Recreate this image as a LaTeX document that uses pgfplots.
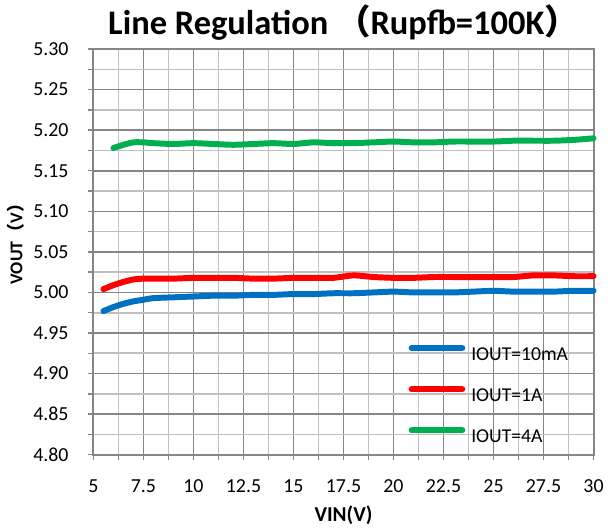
\documentclass[border=0pt]{standalone}
\usepackage{pgfplots}
\pgfplotsset{compat=1.18}
\usepackage{fontspec}
\setmainfont{Carlito}
\newfontfamily\cjk{Noto Sans CJK SC}
\definecolor{cblue}{RGB}{0,112,192}
\definecolor{cred}{RGB}{255,0,0}
\definecolor{cgreen}{RGB}{0,176,80}
\definecolor{gmaj}{RGB}{134,134,134}
\definecolor{gmin}{RGB}{192,192,192}
\begin{document}
\begin{tikzpicture}
\path (-70.5pt,-54pt) rectangle (385.5pt,342pt);
\begin{axis}[
  name=ax,
  at={(0pt,0pt)}, anchor=south west,
  scale only axis,
  width=377.25pt, height=306pt,
  xmin=5, xmax=30, ymin=4.80, ymax=5.30,
  xtick={5,7.5,10,12.5,15,17.5,20,22.5,25,27.5,30},
  ytick={4.80,4.85,4.90,4.95,5.00,5.05,5.10,5.15,5.20,5.25,5.30},
  minor x tick num=1, minor y tick num=1,
  xmajorgrids=true, ymajorgrids=true, xminorgrids=true, yminorgrids=true,
  major grid style={draw=gmaj, line width=1.2pt},
  minor grid style={draw=gmin, line width=1.2pt},
  axis line style={draw=gmaj, line width=1.5pt},
  tick style={draw=gmaj, line width=1.1pt},
  tick pos=left,
  tick align=outside,
  major tick length=4pt, minor tick length=4pt,
  /pgf/number format/assume math mode=true,
  ticklabel style={font=\fontsize{15}{18}\selectfont, text=black},
  xticklabel style={yshift=-11.25pt},
  yticklabel style={xshift=-11.25pt, /pgf/number format/.cd, fixed, fixed zerofill, precision=2},
  scaled y ticks=false,
  clip=false,
  title={Line Regulation {\cjk\bfseries （}Rupfb=100K{\cjk\bfseries ）}},
  title style={at={(axis description cs:0.5,1)}, anchor=base, yshift=5.25pt, font=\fontsize{26}{31}\selectfont\bfseries},
  every axis x label/.style={at={(axis description cs:0.5,0)}, anchor=base, yshift=-50.5pt},
  every axis y label/.style={at={(axis description cs:-0.1555,0.53)}, anchor=center, rotate=90},
  xlabel={\bfseries VIN(V)},
  ylabel={\bfseries VOUT{\cjk\bfseries （}V{\cjk\bfseries ）}},
  xlabel style={font=\fontsize{16}{19}\selectfont},
  ylabel style={font=\fontsize{13.5}{16}\selectfont},
  legend cell align=left,
  legend image code/.code={\draw[#1] (0pt,4.75pt) -- (38.25pt,4.75pt);},
  legend style={at={(0.594,0.3235)}, anchor=north west, draw=none, fill=none,
    inner xsep=13.5pt, inner ysep=16.3pt, row sep=19.2pt,
    font=\fontsize{14.8}{17}\selectfont,
    nodes={inner xsep=4.5pt, inner ysep=0pt, text height=9.5pt, text depth=0pt, text width=73.5pt, align=left}},
  every axis plot/.append style={line width=4.5pt, line cap=round, line join=round, smooth, tension=0.4},
]
\addplot[cblue] coordinates {
(5.5,4.977)(6,4.982)(6.5,4.986)(7,4.989)(7.5,4.991)(8,4.993)(9,4.994)(10,4.995)(11,4.996)(12,4.996)(13,4.997)(14,4.997)(15,4.998)(16,4.998)(17,4.999)(18,4.999)(19,5.000)(20,5.001)(21,5.000)(22,5.000)(23,5.000)(24,5.001)(25,5.002)(26,5.001)(27,5.001)(28,5.001)(29,5.002)(30,5.002)};
\addlegendentry{IOUT=10mA}
\addplot[cred] coordinates {
(5.5,5.004)(6,5.009)(6.5,5.013)(7,5.016)(7.5,5.017)(8,5.017)(9,5.017)(10,5.018)(11,5.018)(12,5.018)(13,5.017)(14,5.017)(15,5.018)(16,5.018)(17,5.018)(18,5.021)(19,5.019)(20,5.018)(21,5.018)(22,5.019)(23,5.019)(24,5.019)(25,5.019)(26,5.019)(27,5.021)(28,5.021)(29,5.020)(30,5.020)};
\addlegendentry{IOUT=1A}
\addplot[cgreen] coordinates {
(6,5.178)(6.5,5.182)(7,5.185)(7.5,5.185)(8,5.184)(9,5.183)(10,5.184)(11,5.183)(12,5.182)(13,5.183)(14,5.184)(15,5.183)(16,5.185)(17,5.184)(18,5.184)(19,5.185)(20,5.186)(21,5.185)(22,5.185)(23,5.186)(24,5.186)(25,5.186)(26,5.187)(27,5.187)(28,5.187)(29,5.188)(30,5.190)};
\addlegendentry{IOUT=4A}
\end{axis}
\end{tikzpicture}
\end{document}
